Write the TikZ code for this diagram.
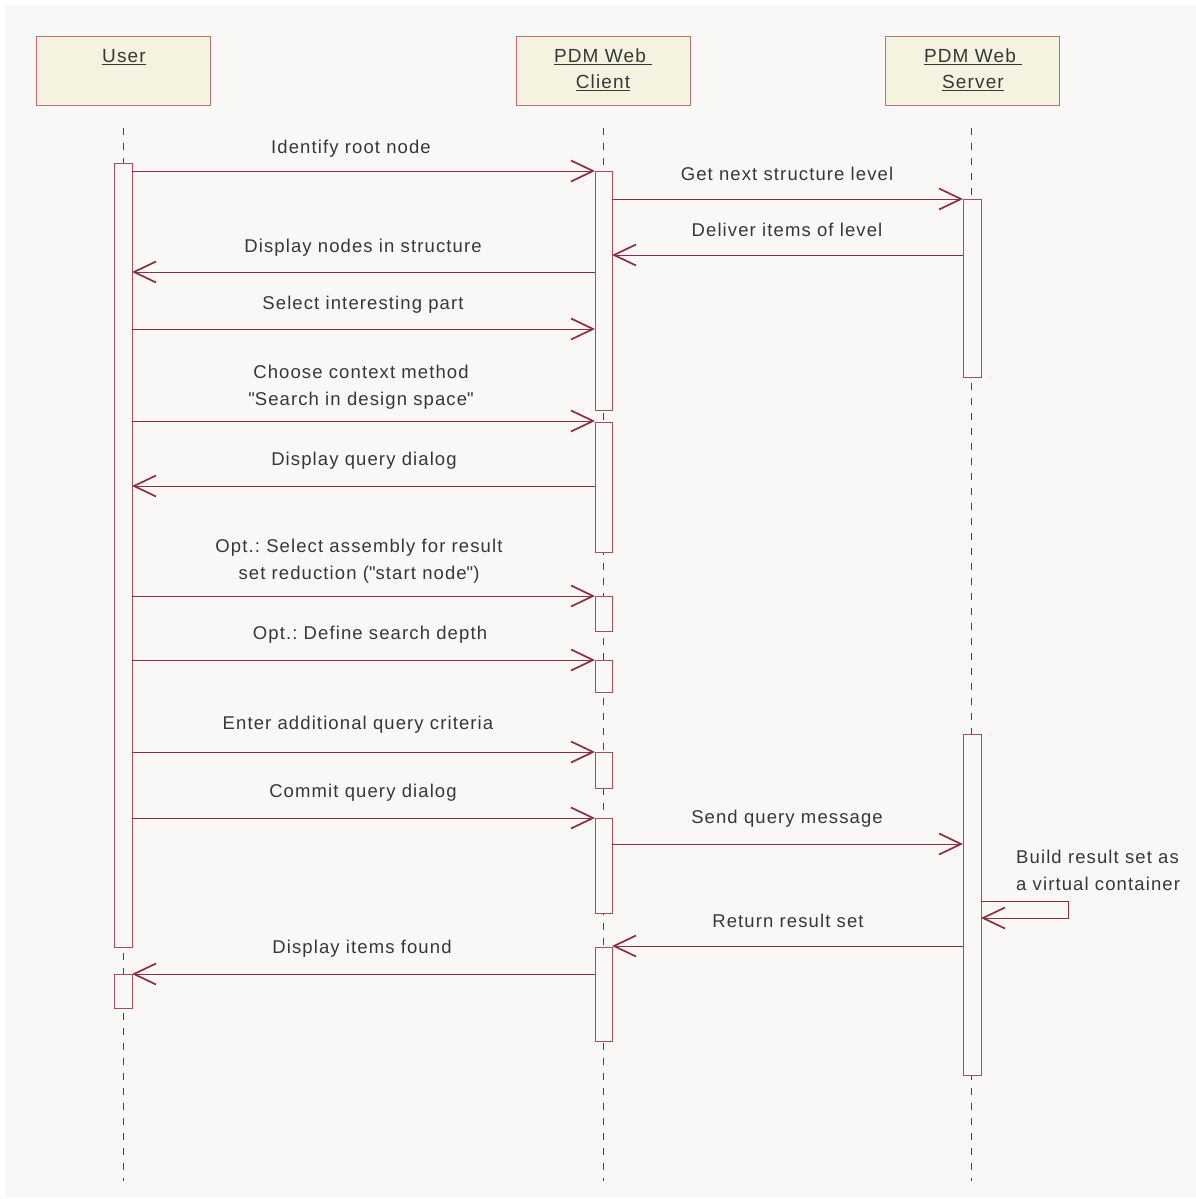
\documentclass[tikz,border=0pt]{standalone}
\usepackage{fontspec}
\setmainfont{Liberation Sans}[LetterSpace=6]
\usetikzlibrary{arrows.meta}
\definecolor{bg}{RGB}{249,248,246}
\definecolor{boxfill}{RGB}{243,243,224}
\definecolor{boxline}{RGB}{185,115,125}
\definecolor{barline}{RGB}{165,80,95}
\definecolor{msgc}{RGB}{140,45,65}
\definecolor{txt}{RGB}{55,55,55}
\definecolor{lifec}{RGB}{70,70,70}
\frenchspacing
\begin{document}
\begin{tikzpicture}[x=1pt,y=-1pt,
  lbl/.style={text=txt,font=\fontsize{18.5}{27}\selectfont,inner sep=0pt,align=center},
  objbox/.style={draw=boxline,fill=boxfill,line width=1pt,minimum width=174pt,minimum height=68pt,inner sep=0pt},
  objlbl/.style={text=txt,font=\fontsize{19}{26}\selectfont,inner sep=0pt,align=center},
  lifeline/.style={draw=lifec,line width=0.9pt,dash pattern=on 7pt off 8pt},
  actbar/.style={draw=barline,fill=bg,line width=1pt},
  msgline/.style={draw=msgc,line width=1pt,-{Straight Barb[length=22pt,width=21pt,line width=1.7pt]}},
]
\useasboundingbox (0,0) rectangle (1196,1199);
\fill[bg] (5,5) rectangle (1196,1197);

% objects
\node[objbox] (user) at (123,71) {};
\node[objbox] (client) at (603.5,71) {};
\node[objbox] (server) at (972,71) {};
\node[objlbl] (userlbl) at (124,57) {\underline{User}};
\node[objlbl] (clientlbl) at (603,70) {\underline{PDM Web\hspace{6pt}}\\\underline{Client}};
\node[objlbl] (serverlbl) at (973,70) {\underline{PDM Web\hspace{6pt}}\\\underline{Server}};

% lifelines
\coordinate (ut) at (123.5,128); \coordinate (ub) at (123.5,1181);
\coordinate (ct) at (603,128); \coordinate (cb) at (603,1181);
\coordinate (st) at (971.5,128); \coordinate (sb) at (971.5,1181);
\draw[lifeline] (ut) -- (ub);
\draw[lifeline] (ct) -- (cb);
\draw[lifeline] (st) -- (sb);

% activation bars
\draw[actbar] (114,163) rectangle (132,947);
\draw[actbar] (114,974) rectangle (132,1008);
\draw[actbar] (595,171) rectangle (612,410);
\draw[actbar] (595,422) rectangle (612,552);
\draw[actbar] (595,596) rectangle (612,631);
\draw[actbar] (595,660) rectangle (612,692);
\draw[actbar] (595,752) rectangle (612,788);
\draw[actbar] (595,818) rectangle (612,913);
\draw[actbar] (595,947) rectangle (612,1041);
\draw[actbar] (963,199) rectangle (981,377);
\draw[actbar] (963,734) rectangle (981,1075);

% message end points
\coordinate (m1a) at (132,171); \coordinate (m1b) at (595,171);
\coordinate (m2a) at (612,199); \coordinate (m2b) at (963,199);
\coordinate (m3a) at (963,255); \coordinate (m3b) at (612,255);
\coordinate (m4a) at (595,272); \coordinate (m4b) at (132,272);
\coordinate (m5a) at (132,329); \coordinate (m5b) at (595,329);
\coordinate (m6a) at (132,421); \coordinate (m6b) at (595,421);
\coordinate (m7a) at (595,486); \coordinate (m7b) at (132,486);
\coordinate (m8a) at (132,596); \coordinate (m8b) at (595,596);
\coordinate (m9a) at (132,660); \coordinate (m9b) at (595,660);
\coordinate (m10a) at (132,752); \coordinate (m10b) at (595,752);
\coordinate (m11a) at (132,818); \coordinate (m11b) at (595,818);
\coordinate (m12a) at (612,844); \coordinate (m12b) at (963,844);
\coordinate (m13a) at (981,901); \coordinate (m13c) at (1068,901);
\coordinate (m13d) at (1068,918); \coordinate (m13b) at (981,918);
\coordinate (m14a) at (963,946); \coordinate (m14b) at (612,946);
\coordinate (m15a) at (595,974); \coordinate (m15b) at (132,974);

\draw[msgline] (m1a) -- (m1b);
\draw[msgline] (m2a) -- (m2b);
\draw[msgline] (m3a) -- (m3b);
\draw[msgline] (m4a) -- (m4b);
\draw[msgline] (m5a) -- (m5b);
\draw[msgline] (m6a) -- (m6b);
\draw[msgline] (m7a) -- (m7b);
\draw[msgline] (m8a) -- (m8b);
\draw[msgline] (m9a) -- (m9b);
\draw[msgline] (m10a) -- (m10b);
\draw[msgline] (m11a) -- (m11b);
\draw[msgline] (m12a) -- (m12b);
\draw[msgline] (m13a) -- (m13c) -- (m13d) -- (m13b);
\draw[msgline] (m14a) -- (m14b);
\draw[msgline] (m15a) -- (m15b);

% labels
\node[lbl] (l1) at (351,149) {Identify root node};
\node[lbl] (l2) at (787,174) {Get next structure level};
\node[lbl] (l3) at (787,230) {Deliver items of level};
\node[lbl] (l4) at (363,248) {Display nodes in structure};
\node[lbl] (l5) at (363,305) {Select interesting part};
\node[lbl] (l6) at (361,387.5) {Choose context method\\\textquotedbl Search in design space\textquotedbl};
\node[lbl] (l7) at (364,461) {Display query dialog};
\node[lbl] (l8) at (359,561.5) {Opt.: Select assembly for result\\set reduction (\textquotedbl start node\textquotedbl)};
\node[lbl] (l9) at (370,635) {Opt.: Define search depth};
\node[lbl] (l10) at (358,725) {Enter additional query criteria};
\node[lbl] (l11) at (363,793) {Commit query dialog};
\node[lbl] (l12) at (787,819) {Send query message};
\node[lbl,align=left,anchor=west] (l13) at (1016,870) {Build result set as\\a virtual container};
\node[lbl] (l14) at (788,921) {Return result set};
\node[lbl] (l15) at (362,949) {Display items found};
\end{tikzpicture}
\end{document}
